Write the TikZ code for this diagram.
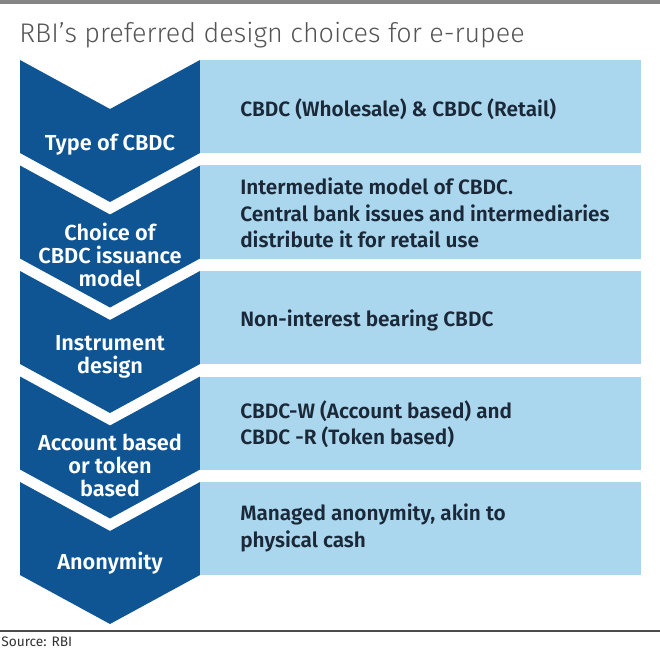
\documentclass[tikz,border=0pt]{standalone}
\usepackage{fontspec}
\setmainfont{Fira Sans}
\newfontfamily\semib{Fira Sans SemiBold}
\newfontfamily\lightf{Fira Sans Light}
\definecolor{dblue}{HTML}{0F5593}
\definecolor{lblue}{HTML}{AAD7EE}
\definecolor{txt}{HTML}{1B2838}
\definecolor{ttl}{HTML}{555555}
\tikzset{
  chev/.style={fill=dblue},
  panel/.style={fill=lblue},
  lab/.style={align=center, text=white, inner sep=0pt, font=\semib\fontsize{16.3}{17.25}\selectfont},
  desc/.style={align=left, text=txt, anchor=west, inner sep=0pt, font=\semib\fontsize{15.6}{19.9}\selectfont},
}
\begin{document}
\begin{tikzpicture}[x=0.75pt,y=-0.75pt]
\useasboundingbox (0,0) rectangle (660,649);
\fill[gray!95] (0,0) rectangle (660,4);
\node[anchor=base west, inner sep=0pt, text=ttl, font=\lightf\fontsize{20.2}{24}\selectfont] (title) at (19,43) {RBI’s preferred design choices for e-rupee};
\foreach \i in {0,...,4}{
  \pgfmathsetmacro\t{60+105.5*\i}
  \pgfmathsetmacro\b{\t+93}
  \fill[chev] (20,\t) -- (110,\t+49) -- (200,\t) -- (200,\b) -- (110,\b+49) -- (20,\b) -- cycle;
  \fill[panel] (200,\t) rectangle (641,\b);
}
\node[lab] (l1) at (110,145) {Type of CBDC};
\node[lab] (l2) at (110,255) {Choice of\\CBDC issuance\\model};
\node[lab] (l3) at (110,357) {Instrument\\design};
\node[lab] (l4) at (110,465) {Account based\\or token\\based};
\node[lab] (l5) at (110,563) {Anonymity};
\node[desc] (d1) at (240,109) {CBDC (Wholesale) \& CBDC (Retail)};
\node[desc] (d2) at (240,213) {Intermediate model of CBDC.\\Central bank issues and intermediaries\\distribute it for retail use};
\node[desc] (d3) at (240,320) {Non-interest bearing CBDC};
\node[desc] (d4) at (240,424) {CBDC-W (Account based) and\\CBDC -R (Token based)};
\node[desc] (d5) at (240,528) {Managed anonymity, akin to\\physical cash};
\draw[line width=1pt, black!70] (0,631) -- (660,631);
\node[anchor=base west, inner sep=0pt, text=black!80, font=\fontsize{10.3}{12}\selectfont] (src) at (1,646) {Source: RBI};
\end{tikzpicture}
\end{document}
